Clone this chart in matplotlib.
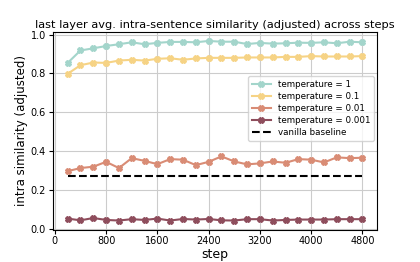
import numpy as np
import matplotlib
matplotlib.use("Agg")
import matplotlib.pyplot as plt

steps = list(range(200, 4801, 200))

temp_1 = [0.854, 0.918, 0.929, 0.941, 0.950, 0.960, 0.950, 0.957, 0.962, 0.962, 0.960, 0.967,
          0.963, 0.963, 0.951, 0.957, 0.953, 0.955, 0.958, 0.957, 0.960, 0.955, 0.963, 0.960]
temp_01 = [0.798, 0.842, 0.856, 0.854, 0.866, 0.870, 0.866, 0.875, 0.878, 0.870, 0.877, 0.880,
           0.880, 0.880, 0.882, 0.882, 0.882, 0.885, 0.885, 0.889, 0.887, 0.887, 0.887, 0.889]
temp_001 = [0.297, 0.313, 0.320, 0.345, 0.313, 0.364, 0.350, 0.333, 0.359, 0.356, 0.328, 0.345,
            0.373, 0.347, 0.332, 0.337, 0.347, 0.340, 0.359, 0.356, 0.342, 0.368, 0.364, 0.366]
temp_0001 = [0.053, 0.044, 0.056, 0.046, 0.043, 0.050, 0.046, 0.053, 0.043, 0.051, 0.048, 0.051,
             0.044, 0.043, 0.050, 0.050, 0.043, 0.046, 0.048, 0.048, 0.048, 0.050, 0.050, 0.050]
baseline = 0.270

labels = ["temperature = 1", "temperature = 0.1", "temperature = 0.01", "temperature = 0.001"]
colors = ["#a3d5cb", "#f6d385", "#d98c75", "#8e4d5c"]

fig = plt.figure(figsize=(4.2, 2.62), dpi=100)
ax = fig.add_axes([0.126, 0.124, 0.772, 0.754])

for ys, lab, c in zip([temp_1, temp_01, temp_001, temp_0001], labels, colors):
    ax.plot(steps, ys, color=c, label=lab, marker="X", markersize=4, linewidth=1.5)
ax.plot([steps[0], steps[-1]], [baseline, baseline], "k--", linewidth=1.5, label="vanilla baseline")

ax.set_xticks(range(0, 4801, 800))
ax.set_yticks([0.0, 0.2, 0.4, 0.6, 0.8, 1.0])
ax.tick_params(labelsize=7, length=3, pad=2)
ax.grid(True, color="#cccccc", linewidth=0.8)
ax.set_axisbelow(True)
ax.set_xlabel("step", fontsize=9, labelpad=1)
ax.set_ylabel("intra similarity (adjusted)", fontsize=8.5, labelpad=2)
ax.set_title("last layer avg. intra-sentence similarity (adjusted) across steps", fontsize=8.2, pad=3)
ax.legend(loc="upper right", bbox_to_anchor=(0.99, 0.775), borderaxespad=0, fontsize=6.3,
          handlelength=2.2, labelspacing=0.35)

fig.savefig("out.png", dpi=100)
